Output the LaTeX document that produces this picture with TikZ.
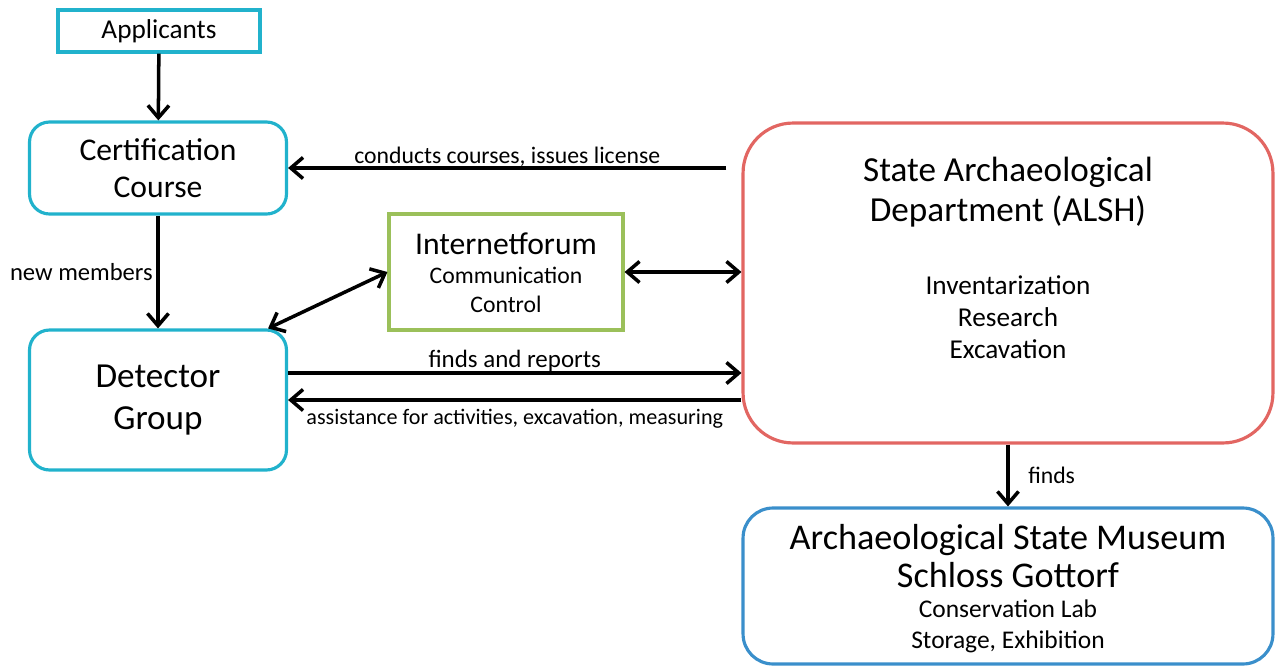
\documentclass[tikz,border=0pt]{standalone}
\usepackage{fontspec}
\setmainfont{Carlito}
\usetikzlibrary{arrows.meta}
\definecolor{appcyan}{RGB}{33,178,204}
\definecolor{forumgreen}{RGB}{155,192,90}
\definecolor{alshred}{RGB}{226,102,98}
\definecolor{museumblue}{RGB}{58,143,203}

\begin{document}
\begin{tikzpicture}
[x=0.02cm,y=-0.02cm,>={Straight Barb[length=7pt,width=12pt]},
 box/.style={draw,line width=1.8pt,align=center,inner sep=0pt},
 txt/.style={align=center,inner sep=0pt},
 link/.style={->,line width=2pt},
 lbl/.style={font=\fontsize{13.5}{16}\selectfont,inner sep=2pt}]

  \useasboundingbox (0,0) rectangle (1275,666);

  \node[box,draw=appcyan,minimum width=4.04cm,minimum height=0.84cm,font=\fontsize{15.5}{18}\selectfont] (app) at (159,31) {Applicants};
  \node[box,draw=appcyan,rounded corners=0.4cm,minimum width=5.14cm,minimum height=1.84cm,font=\fontsize{18}{21}\selectfont] (cert) at (158,168) {Certification\\Course};
  \node[box,draw=appcyan,rounded corners=0.4cm,minimum width=5.14cm,minimum height=2.8cm,font=\fontsize{20}{24}\selectfont] (det) at (158,400) {Detector\\Group};

  \node[box,draw=forumgreen,minimum width=4.68cm,minimum height=2.32cm] (forum) at (506,272) {};
  \node[txt,font=\fontsize{18}{21}\selectfont] (forumtitle) at (506,244) {Internetforum};
  \node[txt,font=\fontsize{13.5}{16.4}\selectfont] (forumtasks) at (506,290) {Communication\\Control};

  \node[box,draw=alshred,rounded corners=1cm,minimum width=10.6cm,minimum height=6.4cm] (alsh) at (1008,283) {};
  \node[txt,font=\fontsize{20}{22.7}\selectfont] (alshtitle) at (1008,192) {State Archaeological\\Department (ALSH)};
  \node[txt,font=\fontsize{15.5}{18.1}\selectfont] (alshtasks) at (1008,317) {Inventarization\\Research\\Excavation};

  \node[box,draw=museumblue,rounded corners=0.6cm,minimum width=10.6cm,minimum height=3.12cm] (mus) at (1008,586) {};
  \node[txt,font=\fontsize{20.6}{21.5}\selectfont] (mustitle) at (1008,556) {Archaeological State Museum\\Schloss Gottorf};
  \node[txt,font=\fontsize{14.5}{17.6}\selectfont] (mustasks) at (1008,626) {Conservation Lab\\Storage, Exhibition};

  \draw[link] (app) -- (cert);
  \draw[link] (cert) -- node[lbl,left,font=\fontsize{14}{16}\selectfont]{new members} (det);
  \draw[link] ([xshift=-0.3cm]alsh.west |- cert.east) -- node[lbl,above,inner sep=0pt]{conducts courses, issues license} (cert.east);
  \draw[<->,line width=2pt] (forum.west) -- ([xshift=-0.4cm]det.north east);
  \draw[<->,line width=2pt] (forum.east) -- (alsh.west |- forum.east);
  \draw[link] ([yshift=0.54cm]det.east) -- node[lbl,above,inner sep=0pt,font=\fontsize{14.2}{16}\selectfont]{finds and reports} ([yshift=0.54cm]det.east -| alsh.west);
  \draw[link] (det.east -| alsh.west) -- node[lbl,below,inner sep=4pt,font=\fontsize{12.6}{15}\selectfont]{assistance for activities, excavation, measuring} (det.east);
  \draw[link] (alsh) -- node[lbl,right,xshift=0.3cm]{finds} (mus);

\end{tikzpicture}
\end{document}
